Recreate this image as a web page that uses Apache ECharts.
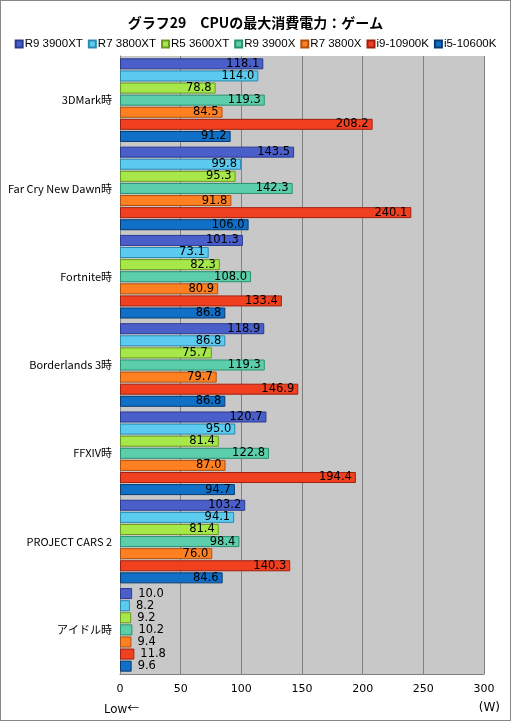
<!DOCTYPE html><html><head><meta charset="utf-8"><script src="https://cdn.jsdelivr.net/npm/echarts@6/dist/echarts.min.js"></script>
<style>html,body{margin:0;padding:0;background:#fff}#c{width:511px;height:721px;box-sizing:border-box;border:1px solid #888}</style></head><body><div id="c"></div><script>
const categories=['3DMark時','Far Cry New Dawn時','Fortnite時','Borderlands 3時','FFXIV時','PROJECT CARS 2','アイドル時'];
const seriesNames=['R9 3900XT','R7 3800XT','R5 3600XT','R9 3900X','R7 3800X','i9-10900K','i5-10600K'];
const colors=['#4a5fc9','#5bcbf0','#a6e84a','#5ccfaa','#ff8020','#f04020','#1070c8'];
const borders=['#2a3a90','#2a8ab0','#6a9a20','#2a9070','#b05010','#a02010','#083a70'];
const r9_3900xt=[118.1,143.5,101.3,118.9,120.7,103.2,10.0];
const r7_3800xt=[114.0,99.8,73.1,86.8,95.0,94.1,8.2];
const r5_3600xt=[78.8,95.3,82.3,75.7,81.4,81.4,9.2];
const r9_3900x=[119.3,142.3,108.0,119.3,122.8,98.4,10.2];
const r7_3800x=[84.5,91.8,80.9,79.7,87.0,76.0,9.4];
const i9_10900k=[208.2,240.1,133.4,146.9,194.4,140.3,11.8];
const i5_10600k=[91.2,106.0,86.8,86.8,94.7,84.6,9.6];
const xTicks=[0,50,100,150,200,250,300];
const data=[r9_3900xt,r7_3800xt,r5_3600xt,r9_3900x,r7_3800x,i9_10900k,i5_10600k];
const F='"Noto Sans CJK JP","DejaVu Sans",sans-serif';
const chart=echarts.init(document.getElementById('c'));
chart.setOption({
 animation:false,
 title:{text:'グラフ29　CPUの最大消費電力：ゲーム',left:'center',top:10,textStyle:{fontFamily:F,fontSize:14,fontWeight:'bold',color:'#000'}},
 legend:{data:seriesNames,top:37,left:'center',width:530,padding:0,itemWidth:7,itemHeight:7,itemGap:5,icon:'rect',textStyle:{fontFamily:'"Liberation Sans"',fontSize:11.5,color:'#000',padding:[0,0,0,-3]}},
 grid:{left:119,right:26,top:55,bottom:46,backgroundColor:'#c8c8c8',show:true,borderWidth:0},
 xAxis:{type:'value',min:0,max:300,interval:50,position:'bottom',
  axisLine:{show:true,lineStyle:{color:'#808080'}},axisTick:{show:false},
  splitLine:{lineStyle:{color:'#808080'}},
  axisLabel:{fontFamily:'"DejaVu Sans"',fontSize:11,color:'#000',margin:10}},
 yAxis:{type:'category',data:categories,inverse:true,axisTick:{show:false},
  axisLine:{lineStyle:{color:'#808080'}},
  axisLabel:{fontFamily:F,fontSize:11,color:'#000',margin:8}},
 graphic:[{type:'text',left:103,bottom:6,style:{text:'Low←',font:'12px "Noto Sans CJK JP"',fill:'#000'}},
          {type:'text',right:10,bottom:6,style:{text:'(W)',font:'12px "DejaVu Sans"',fill:'#000'}}],
 series:seriesNames.map((n,i)=>({name:n,type:'bar',barWidth:11,barGap:'10%',
  data:data[i].map(v=>v<20?{value:v,label:{position:'right',distance:6}}:v),
  itemStyle:{color:colors[i],borderColor:borders[i],borderWidth:1},
  label:{show:true,position:'insideRight',distance:4,formatter:p=>p.value.toFixed(1),
   fontFamily:'"DejaVu Sans"',fontSize:11.5,color:'#000'}
 }))
});
</script></body></html>
